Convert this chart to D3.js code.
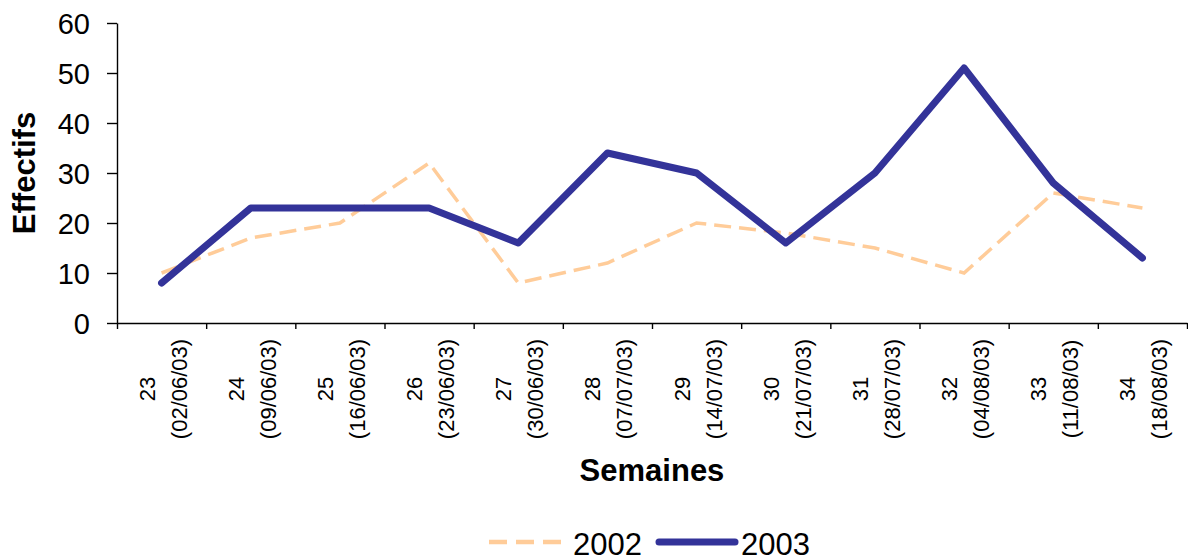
<!DOCTYPE html>
<html>
<head>
<meta charset="utf-8">
<script src="https://cdn.jsdelivr.net/npm/d3@7"></script>
<style>
  body { margin: 0; background: #fff; }
  svg text { font-family: "Liberation Sans", Arial, sans-serif; fill: #000; }
</style>
</head>
<body>
<svg id="chart" width="1188" height="560"></svg>
<script>
var weeks = ['23','24','25','26','27','28','29','30','31','32','33','34'];
var dates = ['(02/06/03)','(09/06/03)','(16/06/03)','(23/06/03)','(30/06/03)','(07/07/03)',
             '(14/07/03)','(21/07/03)','(28/07/03)','(04/08/03)','(11/08/03)','(18/08/03)'];
var values2002 = [10, 17, 20, 32, 8, 12, 20, 18, 15, 10, 26, 23];
var values2003 = [8, 23, 23, 23, 16, 34, 30, 16, 30, 51, 28, 13];
var yTicks = [0, 10, 20, 30, 40, 50, 60];

var svg = d3.select("#chart");

// plot area edges (window.top is reserved, so no "top" here)
var plotL = 117, plotR = 1187, plotT = 23, plotB = 323;

var xi = d3.scaleLinear().domain([0, weeks.length]).range([plotL, plotR]);
var y = d3.scaleLinear().domain([0, 60]).range([plotB, plotT]);

// y axis
var yAxis = svg.append("g")
    .attr("transform", "translate(" + plotL + ",0)")
    .call(d3.axisLeft(y).tickValues(yTicks).tickSize(10).tickSizeOuter(0).tickPadding(17));
yAxis.selectAll("text").style("font-size", "29px").attr("dy", "0.36em");

// x axis
var xAxis = svg.append("g")
    .attr("transform", "translate(0," + plotB + ")")
    .call(d3.axisBottom(xi).tickValues(d3.range(weeks.length + 1)).tickFormat("").tickSize(6).tickSizeOuter(0));

svg.selectAll(".domain, .tick line").attr("stroke", "#000").attr("stroke-width", 1.4);

// category labels (rotated, two lines)
var lab = svg.selectAll("g.xlab")
    .data(weeks)
    .enter().append("g")
    .attr("class", "xlab")
    .attr("transform", function(d, i) { return "translate(" + xi(i + 0.5) + ",389) rotate(-90)"; });
lab.append("text")
    .attr("text-anchor", "middle")
    .attr("y", -7)
    .style("font-size", "22px")
    .text(function(d) { return d; });
lab.append("text")
    .attr("text-anchor", "middle")
    .attr("y", 25)
    .style("font-size", "22px")
    .text(function(d, i) { return dates[i]; });

// lines
var line = d3.line()
    .x(function(d, i) { return xi(i + 0.5); })
    .y(function(d) { return y(d); });

svg.append("path")
    .datum(values2002)
    .attr("d", line)
    .attr("fill", "none")
    .attr("stroke", "#ffcc99")
    .attr("stroke-width", 3.5)
    .attr("stroke-dasharray", "17 8");

svg.append("path")
    .datum(values2003)
    .attr("d", line)
    .attr("fill", "none")
    .attr("stroke", "#333399")
    .attr("stroke-width", 7)
    .attr("stroke-linejoin", "round")
    .attr("stroke-linecap", "round");

// axis titles
svg.append("text")
    .attr("transform", "translate(35,173) rotate(-90)")
    .attr("text-anchor", "middle")
    .style("font-size", "31px")
    .style("font-weight", "bold")
    .text("Effectifs");

svg.append("text")
    .attr("x", (plotL + plotR) / 2)
    .attr("y", 481)
    .attr("text-anchor", "middle")
    .style("font-size", "31px")
    .style("font-weight", "bold")
    .text("Semaines");

// legend
var leg = svg.append("g");
leg.append("line")
    .attr("x1", 489).attr("x2", 563).attr("y1", 542).attr("y2", 542)
    .attr("stroke", "#ffcc99").attr("stroke-width", 4.5).attr("stroke-dasharray", "18 9");
leg.append("text").attr("x", 573).attr("y", 555).style("font-size", "31px").text("2002");
leg.append("line")
    .attr("x1", 659).attr("x2", 735).attr("y1", 542).attr("y2", 542)
    .attr("stroke", "#333399").attr("stroke-width", 7).attr("stroke-linecap", "round");
leg.append("text").attr("x", 741).attr("y", 555).style("font-size", "31px").text("2003");
</script>
</body>
</html>
